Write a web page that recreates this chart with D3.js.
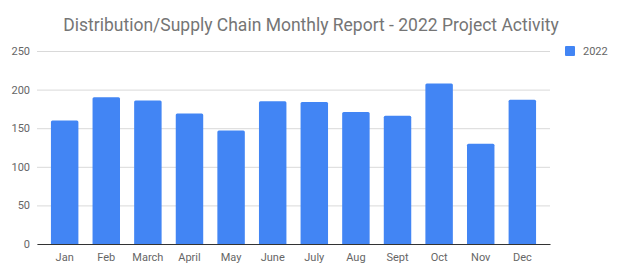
<!DOCTYPE html>
<html lang="en">
<head>
  <meta charset="UTF-8">
  <title>Distribution/Supply Chain Monthly Report</title>
  <script src="https://d3js.org/d3.v7.min.js"></script>
  <style>
    body { margin: 0; background: #fff; }
    text { font-family: Roboto, "Noto Sans", sans-serif; }
  </style>
</head>
<body>
  <svg id="chart" width="624" height="277"></svg>
  <script>
    const months = ["Jan", "Feb", "March", "April", "May", "June", "July", "Aug", "Sept", "Oct", "Nov", "Dec"];
    const values2022 = [160, 190, 186, 169, 147, 185, 184, 171, 166, 208, 130, 187];
    const yTicks = [0, 50, 100, 150, 200, 250];
    const seriesName = "2022";

    const svg = d3.select("#chart");
    const margin = { top: 51, right: 74, bottom: 33, left: 37 };
    const width = 624, height = 277;
    const innerW = width - margin.left - margin.right;
    const innerH = height - margin.top - margin.bottom;

    const x = d3.scaleBand().domain(months).range([0, innerW]).paddingInner(0.34).paddingOuter(0.335);
    const y = d3.scaleLinear().domain([0, 250]).range([innerH, 0]);

    svg.append("text")
      .attr("x", 311).attr("y", 31)
      .attr("text-anchor", "middle")
      .attr("font-size", 17.5)
      .attr("fill", "#757575")
      .text("Distribution/Supply Chain Monthly Report - 2022 Project Activity");

    const g = svg.append("g").attr("transform", `translate(${margin.left},${margin.top})`);

    // grid + y labels
    const yAxis = g.append("g")
      .call(d3.axisLeft(y).tickValues(yTicks).tickSize(-innerW).tickPadding(7));
    yAxis.select(".domain").remove();
    yAxis.selectAll(".tick line").attr("stroke", "#d9d9d9");
    yAxis.selectAll(".tick text").attr("fill", "#666").attr("font-size", 11)
      .style("font-family", "Roboto, sans-serif");

    g.selectAll(".bar")
      .data(values2022)
      .join("path")
      .attr("class", "bar")
      .attr("fill", "#4285f4")
      .attr("d", (d, i) => {
        const x0 = x(months[i]), w = x.bandwidth(), y0 = y(d), y1 = y(0), r = 1.5;
        return `M${x0},${y1}V${y0 + r}Q${x0},${y0} ${x0 + r},${y0}H${x0 + w - r}Q${x0 + w},${y0} ${x0 + w},${y0 + r}V${y1}Z`;
      });

    // baseline
    const xAxis = g.append("g")
      .attr("transform", `translate(0,${innerH})`)
      .call(d3.axisBottom(x).tickSize(0).tickPadding(9));
    xAxis.select(".domain").attr("stroke", "#333").attr("stroke-width", 1.2);
    xAxis.selectAll(".tick text").attr("fill", "#666").attr("font-size", 11)
      .style("font-family", "Roboto, sans-serif");

    // legend
    const legend = svg.append("g").attr("transform", "translate(565,46)");
    legend.append("rect").attr("width", 10).attr("height", 10).attr("rx", 1).attr("fill", "#4285f4");
    legend.append("text").attr("x", 18).attr("y", 9).attr("font-size", 11).attr("fill", "#666").text(seriesName);
  </script>
</body>
</html>
